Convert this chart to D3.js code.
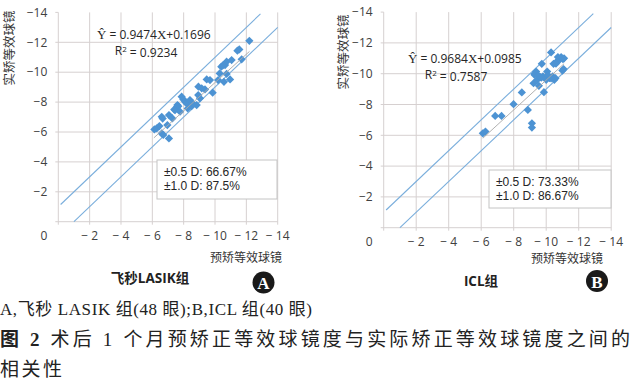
<!DOCTYPE html>
<html>
<head>
<meta charset="utf-8">
<script src="https://cdn.jsdelivr.net/npm/d3@7"></script>
<style>
  body { margin: 0; background: #fff; }
  svg { display: block; }
</style>
</head>
<body>
<div id="container"></div>
<script>
/* DATA */
// predicted vs achieved spherical equivalent (D)
const lasikPred = [-6.13, -6.28, -6.45, -6.6, -6.66, -6.6, -6.7, -6.96, -7.06, -7.06, -7.28, -7.45, -7.55, -7.66, -7.77, -7.87,
  -7.98, -8.09, -8.19, -8.26, -8.4, -8.5, -8.83, -8.94, -9.04, -9.15, -9.36, -9.47, -9.68, -9.85, -10.2, -10.3,
  -10.4, -10.57, -10.64, -10.74, -10.74, -10.96, -11.06, -11.43, -11.55, -11.7, -12.19, -7.4, -8.57, -8.93, -7.6, -10.5]
const lasikReal = [-6.17, -6.24, -6.4, -7.02, -6.9, -5.9, -5.8, -6.46, -7.13, -5.57, -6.91, -7.47, -7.65, -7.73, -7.36, -8.36,
  -8.18, -8.03, -7.91, -7.58, -8.14, -7.73, -7.8, -9.03, -8.25, -8.92, -8.85, -9.52, -9.47, -8.63, -9.47, -9.92,
  -10.37, -9.36, -10.48, -10.7, -9.88, -9.52, -10.81, -11.44, -11.52, -10.86, -12.1, -7.5, -7.92, -8.47, -7.8, -10.45]

const iclPred = [-6.1, -6.26, -6.86, -7.25, -7.99, -8.5, -8.87, -9.12, -9.12, -9.22, -9.28, -9.38, -9.45, -9.55, -9.63, -9.73,
  -9.8, -9.86, -10.0, -10.06, -10.2, -10.3, -10.4, -10.45, -10.5, -10.57, -10.66, -10.72, -10.82, -10.92, -11.0, -11.03,
  -11.07, -11.1, -9.3, -9.5, -10.1, -10.3, -9.7, -10.6]
const iclReal = [-6.13, -6.24, -7.26, -7.26, -8.02, -8.78, -7.65, -6.78, -6.5, -9.38, -9.93, -10.14, -9.6, -9.21, -9.78, -10.64,
  -9.82, -8.8, -9.6, -10.14, -9.71, -11.38, -9.82, -10.64, -9.6, -9.71, -10.8, -11.08, -10.9, -11.08, -10.2, -10.95,
  -10.3, -11.0, -10.0, -9.9, -9.9, -9.7, -9.75, -10.65]

const ticks = [0, -2, -4, -6, -8, -10, -12, -14]
// regression lines (from the printed equations) and the +/-1 D guide lines
const trendA = [[-6.1, -5.61], [-12.2, -11.39]]
const trendB = [[-6.1, -5.81], [-11.1, -10.65]]
const guideUpper = [[-0.15, -1.15], [-12.9, -13.9]]
const guideLower = [[-1.0, 0], [-14, -13]]

const eqA = ["0.9474", "0.1696", "0.9234"]
const eqB = ["0.9684", "0.0985", "0.7587"]
const accA = ["66.67%", "87.5%"]
const accB = ["73.33%", "86.67%"]

/* SVG */
const width = 632, height = 386
const svg = d3.select("#container").append("svg")
  .attr("width", width).attr("height", height)

const sans = "'Open Sans', 'Noto Sans', sans-serif"
const cjk = "'Noto Sans CJK SC', sans-serif"
const serifMix = "'Liberation Serif', 'Noto Sans CJK SC', serif"
const fmt = d => d === 0 ? "" : "\u2212" + Math.abs(d)

function drawPanel(p) {
  const xScale = d3.scaleLinear().domain([0, -14]).range([p.left, p.right])
  const yScale = d3.scaleLinear().domain([0, -14]).range([p.bottom, p.top])
  const g = svg.append("g")

  // grid
  g.selectAll(".vgrid").data(ticks).join("line")
    .attr("x1", d => xScale(d)).attr("x2", d => xScale(d))
    .attr("y1", yScale(-14)).attr("y2", yScale(0) + 3)
    .attr("stroke", "#d6d0d0").attr("stroke-width", 1)
  g.selectAll(".hgrid").data(ticks).join("line")
    .attr("x1", xScale(0) - 3).attr("x2", d => d === -14 ? xScale(0) : xScale(-14))
    .attr("y1", d => yScale(d)).attr("y2", d => yScale(d))
    .attr("stroke", "#d6d0d0").attr("stroke-width", 1)

  // axes labels
  g.selectAll(".ylab").data(ticks.slice(1)).join("text")
    .attr("x", p.left - 11).attr("y", d => yScale(d)).attr("dy", "0.35em")
    .attr("text-anchor", "end").attr("font-family", sans).attr("font-size", 12)
    .attr("fill", "#404040").text(fmt)
  g.selectAll(".xlab").data(ticks.slice(1)).join("text")
    .attr("x", d => xScale(d)).attr("y", p.xlabY).attr("dy", "0.35em")
    .attr("text-anchor", "middle").attr("font-family", sans).attr("font-size", 12)
    .attr("fill", "#404040").text(d => "\u2212 " + Math.abs(d))
  g.append("text").attr("x", p.left - 11).attr("y", p.xlabY).attr("dy", "0.35em")
    .attr("text-anchor", "end").attr("font-family", sans).attr("font-size", 12)
    .attr("fill", "#404040").text("0")

  const line = d3.line().x(d => xScale(d[0])).y(d => yScale(d[1]))
  g.append("path").attr("d", line(guideUpper)).attr("fill", "none")
    .attr("stroke", "#7aaedc").attr("stroke-width", 1.1)
  g.append("path").attr("d", line(guideLower)).attr("fill", "none")
    .attr("stroke", "#7aaedc").attr("stroke-width", 1.1)

  // points
  const pts = d3.zip(p.xs, p.ys)
  g.selectAll(".pt").data(pts).join("path")
    .attr("d", d3.symbol(d3.symbolSquare, 34))
    .attr("transform", d => `translate(${xScale(d[0])},${yScale(d[1])}) rotate(45)`)
    .attr("fill", "#4d93d3")

  g.append("path").attr("d", line(p.trend)).attr("fill", "none")
    .attr("stroke", "#a8a8a8").attr("stroke-width", 0.9)

  // equation
  const eq = g.append("text").attr("x", p.eqX).attr("y", p.eqY).attr("dy", "0.35em")
    .attr("font-family", sans).attr("font-size", 12).attr("fill", "#262626")
  eq.append("tspan").attr("font-family", "'Liberation Serif', serif").attr("font-size", 13).text("\u0176")
  eq.append("tspan").text(" = " + p.eq[0])
  eq.append("tspan").attr("font-family", "'Liberation Serif', serif").attr("font-size", 13).text("X")
  eq.append("tspan").text("+" + p.eq[1])
  const r2 = g.append("text").attr("x", p.r2X).attr("y", p.eqY + 16).attr("dy", "0.35em")
    .attr("text-anchor", "middle").attr("font-family", sans).attr("font-size", 12).attr("fill", "#262626")
  r2.append("tspan").text("R")
  r2.append("tspan").attr("font-size", 8).attr("dy", "-0.45em").text("2")
  r2.append("tspan").attr("dy", "0.45em").text(" = " + p.eq[2])

  // accuracy box
  g.append("rect").attr("x", p.box[0]).attr("y", p.box[1])
    .attr("width", p.box[2]).attr("height", p.box[3])
    .attr("fill", "#fff").attr("stroke", "#c4c4c4").attr("stroke-width", 1)
  ;["\u00b10.5 D", "\u00b11.0 D"].forEach((t, i) => {
    g.append("text").attr("x", p.box[0] + 7).attr("y", p.box[1] + 16 + i * 14)
      .attr("font-family", "'Liberation Sans', sans-serif")
      .attr("font-size", 12).attr("fill", "#262626")
      .text(t + ": " + p.acc[i])
  })

  // titles
  g.append("text").attr("transform", `translate(${p.yTitle[0]},${p.yTitle[1]}) rotate(-90)`)
    .attr("text-anchor", "middle").attr("dy", "0.35em").attr("font-family", cjk)
    .attr("font-size", 12.5).attr("fill", "#333").text("实矫等效球镜")
  g.append("text").attr("x", p.xTitle[0]).attr("y", p.xTitle[1]).attr("dy", "0.35em")
    .attr("text-anchor", "middle").attr("font-family", cjk)
    .attr("font-size", 12).attr("fill", "#333").text("预矫等效球镜")
  g.append("text").attr("x", p.name[0]).attr("y", p.name[1]).attr("dy", "0.35em")
    .attr("text-anchor", "middle").attr("font-family", "'Open Sans', 'Noto Sans CJK SC', sans-serif")
    .attr("font-weight", "bold").attr("font-size", 13.5).attr("fill", "#222").text(p.nameText)
  g.append("circle").attr("cx", p.badge[0]).attr("cy", p.badge[1]).attr("r", 11).attr("fill", "#1a1a1a")
  g.append("text").attr("x", p.badge[0]).attr("y", p.badge[1] + 1).attr("dy", "0.35em")
    .attr("text-anchor", "middle").attr("font-family", "'Liberation Serif', serif")
    .attr("font-weight", "bold").attr("font-size", 17).attr("fill", "#fff").text(p.badgeText)
}

drawPanel({
  left: 58.3, right: 277.7, top: 12.4, bottom: 221.7, xlabY: 236,
  xs: lasikPred, ys: lasikReal, trend: trendA, eq: eqA, acc: accA,
  eqX: 97, eqY: 35, r2X: 146, box: [157, 160, 120, 39],
  yTitle: [10, 48], xTitle: [246, 258], name: [150, 278], nameText: "飞秒LASIK组",
  badge: [263.5, 282.5], badgeText: "A"
})
drawPanel({
  left: 383.7, right: 611.2, top: 12.1, bottom: 227.7, xlabY: 242,
  xs: iclPred, ys: iclReal, trend: trendB, eq: eqB, acc: accB,
  eqX: 408, eqY: 59, r2X: 456, box: [489, 170, 122, 38],
  yTitle: [344, 52], xTitle: [567, 259], name: [481, 281], nameText: "ICL组",
  badge: [597, 281], badgeText: "B"
})

// caption
svg.append("text").attr("x", 0).attr("y", 315).attr("font-family", serifMix)
  .attr("font-size", 17).attr("fill", "#222")
  .attr("textLength", 312).attr("lengthAdjust", "spacing")
  .text("A,飞秒 LASIK 组(48 眼);B,ICL 组(40 眼)")
const cap = svg.append("text").attr("x", 0).attr("y", 346).attr("font-family", serifMix)
  .attr("font-size", 19).attr("fill", "#222")
  .attr("textLength", 630).attr("lengthAdjust", "spacing")
cap.append("tspan").attr("font-weight", "bold").text("图 2")
cap.append("tspan").text("  术后 1 个月预矫正等效球镜度与实际矫正等效球镜度之间的")
svg.append("text").attr("x", 0).attr("y", 376).attr("font-family", serifMix)
  .attr("font-size", 19).attr("fill", "#222")
  .attr("textLength", 62).attr("lengthAdjust", "spacing").text("相关性")
</script>
</body>
</html>
